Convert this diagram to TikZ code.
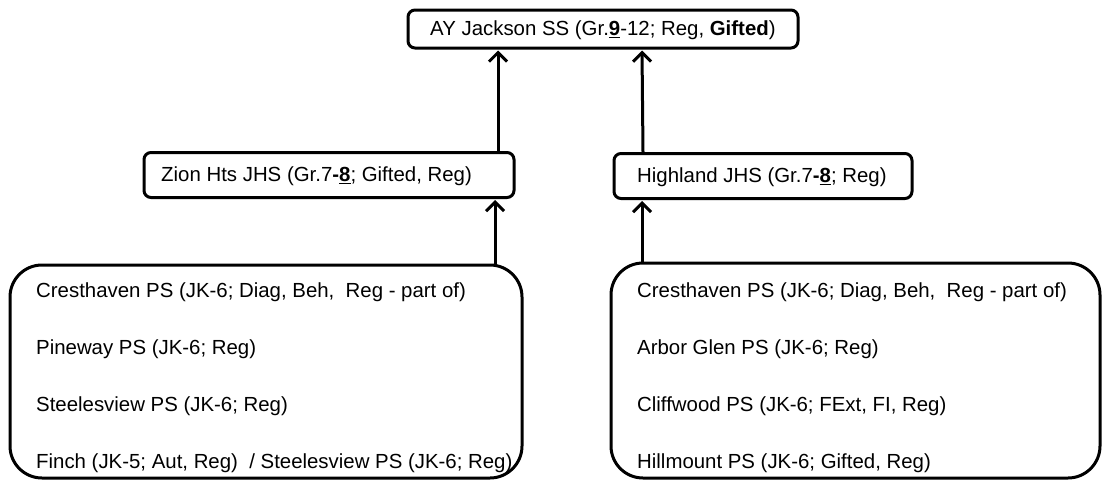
\documentclass[tikz,border=0pt]{standalone}
\usepackage{fontspec}
\setmainfont{Liberation Sans}
\usetikzlibrary{arrows.meta}
\begin{document}
\begin{tikzpicture}[x=1pt,y=-1pt,
  box/.style={draw,line width=3pt,rounded corners=7pt,inner sep=0pt},
  bigbox/.style={draw,line width=3pt,rounded corners=32pt,inner sep=0pt},
  txt/.style={anchor=west,inner sep=0pt,font=\fontsize{20.4}{24}\selectfont},
  arr/.style={line width=3pt,-{Straight Barb[length=9pt,width=18pt,line width=3pt]}}]
\useasboundingbox (0,0) rectangle (1109,490);
% boxes
\node[box,minimum width=390pt,minimum height=38pt] (ay) at (603,29) {};
\node[txt] (ayt) at (430,30) {AY Jackson SS (Gr.\textbf{\underline{9}}-12; Reg, \textbf{Gifted})};
\node[box,minimum width=370pt,minimum height=45pt] (zion) at (329,175) {};
\node[txt] (ziont) at (161,176) {Zion Hts JHS (Gr.7\textbf{-\underline{8}}; Gifted, Reg)};
\node[box,minimum width=298pt,minimum height=45pt] (high) at (763,176) {};
\node[txt] (hight) at (637,177) {Highland JHS (Gr.7\textbf{-\underline{8}}; Reg)};
\node[bigbox,minimum width=512pt,minimum height=213pt] (lb) at (266,371.5) {};
\node[bigbox,minimum width=489pt,minimum height=215pt] (rb) at (855.5,370.5) {};
% left list
\node[txt] (l1) at (36,292) {Cresthaven PS (JK-6; Diag, Beh,\ \ Reg - part of)};
\node[txt] (l2) at (36,349) {Pineway PS (JK-6; Reg)};
\node[txt] (l3) at (36,406) {Steelesview PS (JK-6; Reg)};
\node[txt] (l4) at (36,463) {Finch (JK-5; Aut, Reg)\ \ / Steelesview PS (JK-6; Reg)};
% right list
\node[txt] (r1) at (637,292) {Cresthaven PS (JK-6; Diag, Beh,\ \ Reg - part of)};
\node[txt] (r2) at (637,349) {Arbor Glen PS (JK-6; Reg)};
\node[txt] (r3) at (637,406) {Cliffwood PS (JK-6; FExt, FI, Reg)};
\node[txt] (r4) at (637,463) {Hillmount PS (JK-6; Gifted, Reg)};
% connectors
\coordinate (xa) at (495,0);
\coordinate (xb) at (642,0);
\coordinate (xc) at (498,0);
\draw[arr] (xa |- lb.north) -- ([yshift=-1pt]xa |- zion.south);
\draw[arr] (xb |- rb.north) -- ([yshift=-1pt]xb |- high.south);
\draw[arr] (xc |- zion.north) -- ([yshift=-1pt]xc |- ay.south);
\draw[arr] ([xshift=1pt]xb |- high.north) -- ([yshift=-1pt]xb |- ay.south);
\end{tikzpicture}
\end{document}
